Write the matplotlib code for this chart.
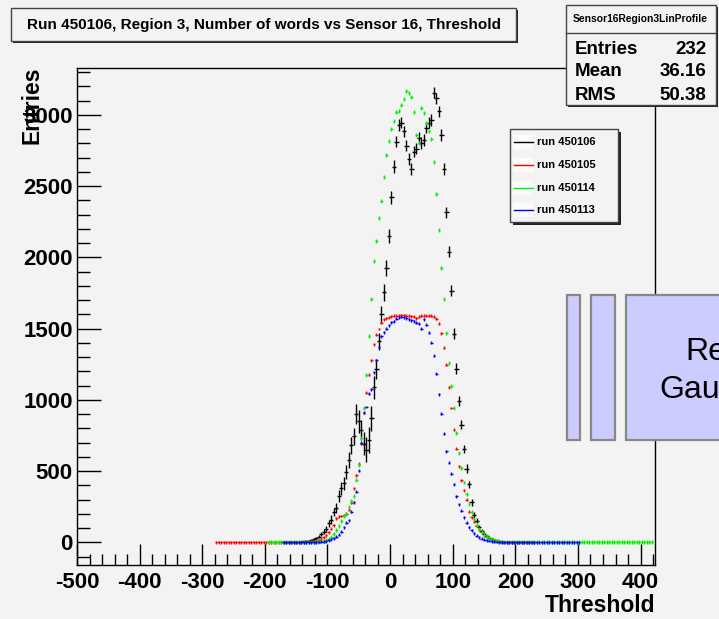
import matplotlib
matplotlib.use('Agg')
import matplotlib.pyplot as plt
import numpy as np
from matplotlib.patches import Rectangle
from matplotlib.lines import Line2D

plt.rcParams['font.family'] = ['Liberation Sans', 'DejaVu Sans']
plt.rcParams['axes.unicode_minus'] = False

# data: profile bin contents, bins of width 4, listed from the first filled bin

bin_width = 4
runs = ['run 450106', 'run 450105', 'run 450114', 'run 450113']
colors = ['#000000', '#ff0000', '#00f000', '#0000ff']

black_start = -170
black_y = [0, 1, 1, 2, 2, 3, 4, 5, 6, 8,
           10, 15, 20, 28, 40, 60, 75, 95, 135, 160,
           214, 238, 324, 378, 413, 495, 580, 682, 745, 904,
           850, 790, 693, 651, 717, 870, 1088, 1219, 1412, 1600,
           1755, 1926, 2150, 2421, 2636, 2813, 2930, 2945, 2884, 2783,
           2690, 2620, 2741, 2764, 2837, 2802, 2823, 2911, 2946, 2963,
           3157, 3115, 3024, 2858, 2620, 2316, 2040, 1767, 1464, 1219,
           990, 827, 656, 518, 406, 280, 191, 151, 109, 81,
           60, 45, 33, 24, 17, 12, 8, 5, 3, 2,
           1, 1, 0, 0, 0, 0, 0, 0, 0, 0]
black_err = [0, 1, 1, 2, 2, 3, 3, 4, 4, 5,
             6, 7, 8, 10, 12, 15, 18, 20, 25, 30,
             30, 35, 40, 45, 45, 50, 55, 60, 60, 70,
             80, 70, 80, 90, 90, 90, 80, 70, 60, 60,
             60, 55, 50, 45, 45, 40, 40, 40, 40, 40,
             40, 40, 40, 40, 40, 40, 40, 40, 40, 40,
             40, 40, 40, 40, 40, 40, 40, 40, 40, 40,
             35, 35, 30, 30, 25, 25, 20, 18, 15, 12,
             10, 9, 8, 7, 6, 5, 4, 3, 2, 2,
             1, 1, 0, 0, 0, 0, 0, 0, 0, 0]

red_start = -278
red_y = [0] * 36 + [
    1, 2, 4, 6, 10, 15, 25, 35, 50, 70,
    95, 121, 170, 184, 185, 190, 200, 230, 277, 380,
    470, 553, 690, 913, 1050, 1176, 1277, 1389, 1458, 1497,
    1540, 1564, 1573, 1580, 1587, 1590, 1592, 1594, 1594, 1594,
    1592, 1590, 1586, 1583, 1573, 1585, 1590, 1592, 1590, 1590,
    1590, 1585, 1570, 1534, 1468, 1366, 1247, 1088, 943, 791,
    656, 535, 436, 366, 300, 214, 175, 145, 115, 92,
    70, 55, 42, 30, 22, 15, 10, 7, 4, 2,
    1] + [0] * 11
red_err = 10

green_start = -194
green_y = [0] * 19 + [
    2, 3, 6, 10, 15, 25, 40, 58, 86, 115,
    150, 184, 200, 245, 290, 324, 437, 540, 730, 946,
    1175, 1446, 1708, 1974, 2113, 2277, 2393, 2566, 2715, 2820,
    2900, 2958, 3023, 3028, 3068, 3110, 3168, 3156, 3128, 3023,
    2860, 2806, 3051, 3014, 2946, 2890, 2834, 2671, 2444, 2192,
    1923, 1709, 1468, 1257, 1094, 945, 766, 630, 520, 420,
    340, 270, 215, 165, 125, 95, 70, 52, 38, 28,
    20, 14, 10, 7, 5, 3, 2, 1] + [0] * 57
green_err = 14

blue_start = -170
blue_y = [0] * 13 + [
    1, 2, 3, 5, 8, 13, 20, 28, 39, 55,
    75, 105, 137, 156, 214, 280, 354, 502, 699, 908,
    950, 1044, 1073, 1192, 1277, 1370, 1445, 1475, 1499, 1522,
    1543, 1552, 1569, 1578, 1582, 1580, 1572, 1565, 1557, 1550,
    1540, 1534, 1499, 1564, 1527, 1471, 1401, 1310, 1184, 1039,
    904, 763, 640, 560, 483, 406, 324, 266, 221, 175,
    137, 105, 86, 63, 46, 34, 25, 18, 13, 9,
    6, 4, 2, 1] + [0] * 32
blue_err = 10

bg = '#f3f3f3'
W, H = 719, 619

def fx(px):
    return px / W

def fy(py):
    return 1 - py / H

fig = plt.figure(figsize=(W / 100, H / 100), dpi=100, facecolor=bg)
ax = fig.add_axes([fx(77), fy(565), (655 - 77) / W, (565 - 68) / H])
ax.set_facecolor(bg)

series = [(black_start, black_y, black_err, 3.5),
          (red_start, red_y, red_err, 2),
          (green_start, green_y, green_err, 2),
          (blue_start, blue_y, blue_err, 2)]

for (start, ys, err, xe), col in zip(series, colors):
    xs = start + bin_width * np.arange(len(ys))
    ax.errorbar(xs, ys, yerr=err, xerr=xe, fmt='none', ecolor=col,
                elinewidth=1.0, capsize=0)

ax.set_xlim(-500, 423)
ax.set_ylim(-159, 3329)
ax.set_xticks(np.arange(-500, 401, 100))
ax.set_xticks(np.arange(-500, 421, 20), minor=True)
ax.set_yticks(np.arange(0, 3001, 500))
ax.set_yticks(np.arange(-100, 3301, 100), minor=True)
ax.tick_params(axis='x', which='major', direction='in', length=15, width=1, pad=5)
ax.tick_params(axis='x', which='minor', direction='in', length=8, width=1)
ax.tick_params(axis='y', which='major', direction='in', length=17, width=1, pad=3)
ax.tick_params(axis='y', which='minor', direction='in', length=9, width=1)
for lab in ax.get_xticklabels() + ax.get_yticklabels():
    lab.set_fontsize(16)
    lab.set_fontweight('bold')
for sp in ax.spines.values():
    sp.set_linewidth(1.0)

fig.text(fx(655), fy(606), 'Threshold', ha='right', va='center',
         fontsize=16.5, fontweight='bold')
fig.text(fx(32), fy(67), 'Entries', ha='center', va='top', rotation=90,
         fontsize=16.5, fontweight='bold')

def pave(x0, y0, x1, y1, shadow=2, fc=bg, ec='#444444', lw=1.0):
    fig.add_artist(Rectangle((fx(x0 + shadow), fy(y1 + shadow)),
                             (x1 - x0) / W, (y1 - y0) / H,
                             transform=fig.transFigure, fc='#222222', ec='none'))
    fig.add_artist(Rectangle((fx(x0), fy(y1)), (x1 - x0) / W, (y1 - y0) / H,
                             transform=fig.transFigure, fc=fc, ec=ec, lw=lw))

# title box
pave(11, 8, 516, 41)
fig.text(fx(264), fy(25), 'Run 450106, Region 3, Number of words vs Sensor 16, Threshold',
         ha='center', va='center', fontsize=11, fontweight='bold')

# stats box
pave(566, 5, 716, 105)
fig.add_artist(Line2D([fx(566), fx(716)], [fy(33), fy(33)],
                      transform=fig.transFigure, color='#444444', lw=1.0))
fig.text(fx(640), fy(19), 'Sensor16Region3LinProfile', ha='center', va='center',
         fontsize=7.4, fontweight='bold')
stats = [('Entries', '232'), ('Mean', '36.16'), ('RMS', '50.38')]
for i, (k, v) in enumerate(stats):
    yy = fy(49 + 23 * i)
    fig.text(fx(575), yy, k, ha='left', va='center', fontsize=13.5, fontweight='bold')
    fig.text(fx(706), yy, v, ha='right', va='center', fontsize=13.5, fontweight='bold')

# legend
pave(510, 129, 618, 222, shadow=3)
for i, (name, col) in enumerate(zip(runs, colors)):
    yy = 142 + 22.8 * i
    fig.add_artist(Rectangle((fx(513), fy(yy + 7)), 20 / W, 14 / H,
                             transform=fig.transFigure, fc='#fbfbfb', ec='none'))
    fig.add_artist(Line2D([fx(514), fx(533)], [fy(yy), fy(yy)],
                          transform=fig.transFigure, color=col, lw=1.0))
    fig.text(fx(537), fy(yy), name, ha='left', va='center',
             fontsize=8, fontweight='bold')

# fit result boxes, cut by the canvas edge
for x0, x1 in [(567, 580), (591, 615), (626, 740)]:
    fig.add_artist(Rectangle((fx(x0), fy(440)), (x1 - x0) / W, 145 / H,
                             transform=fig.transFigure, fc='#ccccff',
                             ec='#888888', lw=1.6))
fig.text(fx(685), fy(360), 'Results', ha='left', va='baseline', fontsize=23)
fig.text(fx(659), fy(398), 'Gaussian', ha='left', va='baseline', fontsize=23)

fig.savefig('out.png', dpi=100, facecolor=bg)
